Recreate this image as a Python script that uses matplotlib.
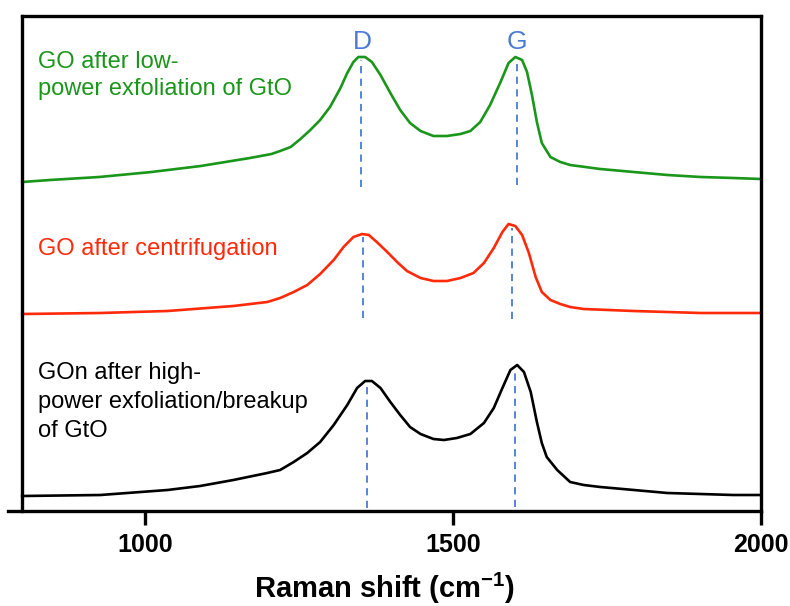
import matplotlib
matplotlib.use("Agg")
import matplotlib.pyplot as plt

plt.rcParams['font.family'] = ['Liberation Sans', 'DejaVu Sans']
plt.rcParams['mathtext.fontset'] = 'custom'
plt.rcParams['mathtext.rm'] = 'Liberation Sans:bold'
plt.rcParams['mathtext.bf'] = 'Liberation Sans:bold'
plt.rcParams['mathtext.default'] = 'bf'

# ---- data ----
green_x = [800, 845, 925, 1010, 1090, 1170, 1205, 1219, 1236, 1252, 1268, 1284, 1300, 1317,
           1328, 1338, 1346, 1357, 1368, 1382, 1398, 1414, 1430, 1447, 1468, 1490, 1512, 1528,
           1544, 1560, 1577, 1590, 1601, 1612, 1620, 1628, 1636, 1644, 1658, 1674, 1690, 1739,
           1793, 1848, 1902, 1955, 2000]
green_y = [329, 331, 334, 339, 345, 353, 357, 360, 364, 372, 381, 391, 404, 423,
           438, 449, 454, 454, 449, 436, 418, 401, 388, 380, 375, 375, 377, 380,
           389, 406, 429, 448, 454, 451, 439, 416, 389, 368, 354, 349, 346, 342,
           339, 336, 334, 333, 332]

red_x = [800, 927, 1036, 1143, 1198, 1219, 1241, 1263, 1284, 1306, 1322, 1338, 1352, 1363,
         1376, 1393, 1409, 1425, 1447, 1468, 1490, 1512, 1533, 1550, 1566, 1580, 1590, 1601,
         1612, 1623, 1634, 1644, 1658, 1674, 1690, 1712, 1793, 1902, 2000]
red_y = [197, 198, 200, 205, 209, 213, 219, 226, 237, 251, 264, 274, 277, 276,
         269, 259, 249, 240, 233, 230, 230, 233, 238, 248, 263, 279, 287, 285,
         276, 258, 234, 219, 211, 207, 204, 202, 200, 198, 198]

black_x = [800, 927, 1036, 1089, 1143, 1198, 1219, 1241, 1263, 1284, 1306, 1328, 1344, 1357,
           1368, 1382, 1398, 1414, 1430, 1447, 1468, 1485, 1506, 1528, 1550, 1566, 1580, 1593,
           1604, 1615, 1626, 1636, 1644, 1652, 1669, 1690, 1712, 1739, 1848, 1955, 2000]
black_y = [15, 16, 21, 25, 31, 38, 41, 49, 58, 69, 86, 106, 123, 130,
           130, 123, 109, 96, 84, 77, 72, 71, 73, 77, 88, 103, 123, 141,
           146, 139, 119, 89, 68, 54, 41, 29, 26, 24, 18, 16, 16]

# peak marker lines: x position, top, bottom (intensity units)
peak_x = [1351, 1603, 1354, 1596, 1360, 1601]
peak_top = [451, 449, 274, 283, 126, 139]
peak_bottom = [324, 326, 193, 192, 3, 4]

peak_names = ['D', 'G']
peak_name_x = [1353, 1604]

labels = ['GO after low-\npower exfoliation of GtO',
          'GO after centrifugation',
          'GOn after high-\npower exfoliation/breakup\nof GtO']

xticks = [1000, 1500, 2000]

# ---- styling ----
c_green = '#1a961a'
c_red = '#ff2a0a'
c_black = '#000000'
c_blue = '#4a7bd4'

fig = plt.figure(figsize=(7.9, 6.06), dpi=100)
ax = fig.add_axes([8 / 790, 1 - 511 / 606, (761 - 8) / 790, (511 - 16) / 606])

ax.plot(green_x, green_y, color=c_green, lw=1.9, solid_joinstyle='round')
ax.plot(red_x, red_y, color=c_red, lw=1.9, solid_joinstyle='round')
ax.plot(black_x, black_y, color=c_black, lw=1.9, solid_joinstyle='round')

for px, pt, pb in zip(peak_x, peak_top, peak_bottom):
    ax.plot([px, px], [pb, pt], color=c_blue, lw=1.3, dashes=(4, 3))

for name, nx in zip(peak_names, peak_name_x):
    ax.text(nx, 462, name, color=c_blue, fontsize=19, ha='center', va='baseline')

ax.set_xlim(777, 2000)
ax.set_ylim(0, 495)

ax.spines['left'].set_position(('data', 800))
ax.spines['top'].set_bounds(800, 2000)
for s in ax.spines.values():
    s.set_linewidth(2.4)

ax.set_yticks([])
ax.set_xticks(xticks)
ax.set_xticklabels([str(t) for t in xticks], fontsize=18, fontweight='bold')
ax.tick_params(axis='x', direction='out', length=10, width=2.4, pad=6)

ax.set_xlabel('Raman shift (cm$^{-1}$)', fontsize=21, fontweight='bold')
ax.xaxis.set_label_coords(0.5, -(598 - 511) / 495)
ax.xaxis.label.set_va('baseline')

# multi-line texts: va='baseline' anchors the last line's baseline
fig.text(38 / 790, 1 - 95 / 606, labels[0], color=c_green, fontsize=17, va='baseline', ha='left', linespacing=1.3)
fig.text(38 / 790, 1 - 255 / 606, labels[1], color=c_red, fontsize=17, va='baseline', ha='left', linespacing=1.3)
fig.text(38 / 790, 1 - 437 / 606, labels[2], color=c_black, fontsize=17, va='baseline', ha='left', linespacing=1.42)

fig.savefig('out.png', dpi=100)
